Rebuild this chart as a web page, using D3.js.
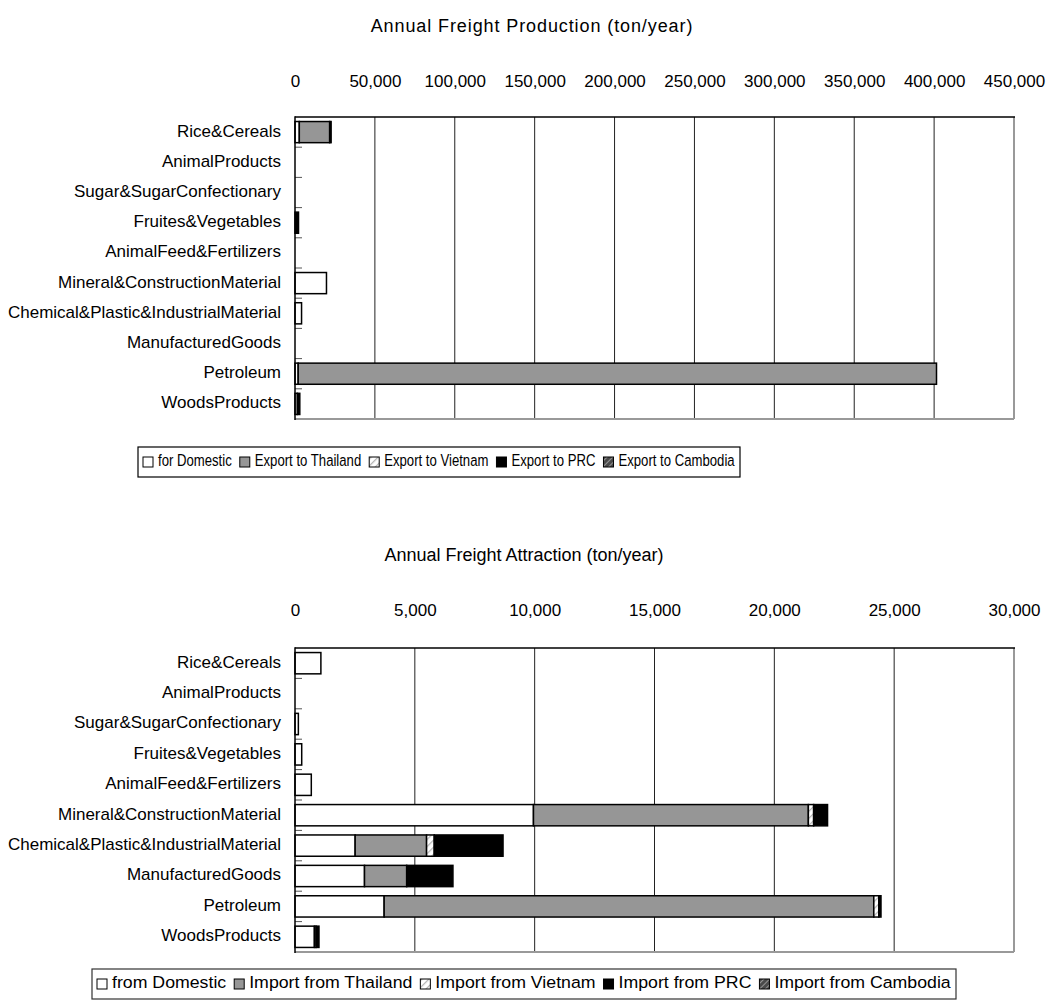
<!DOCTYPE html>
<html>
<head>
<meta charset="utf-8">
<script src="https://cdn.jsdelivr.net/npm/d3@7"></script>
<style>
  html, body { margin: 0; padding: 0; background: #fff; }
  svg text { font-family: "Liberation Sans", Arial, sans-serif; fill: #000; }
</style>
</head>
<body>
<script>
// Commodity groups shared by both panels
const categories = [
  "Rice&Cereals", "AnimalProducts", "Sugar&SugarConfectionary", "Fruites&Vegetables",
  "AnimalFeed&Fertilizers", "Mineral&ConstructionMaterial",
  "Chemical&Plastic&IndustrialMaterial", "ManufacturedGoods", "Petroleum", "WoodsProducts"
];

// Annual freight production (ton/year)
const prodDomestic  = [2700, 0, 0, 0, 0, 19700, 4100, 0, 2000, 1500];
const prodThailand  = [19000, 0, 0, 0, 0, 0, 0, 0, 399500, 0];
const prodVietnam   = [0, 0, 0, 0, 0, 0, 0, 0, 0, 0];
const prodPRC       = [900, 0, 0, 2200, 0, 0, 0, 0, 0, 1500];
const prodCambodia  = [0, 0, 0, 0, 0, 0, 0, 0, 0, 0];
const prodTicks     = [0, 50000, 100000, 150000, 200000, 250000, 300000, 350000, 400000, 450000];
const prodLegend    = ["for Domestic", "Export to Thailand", "Export to Vietnam", "Export to PRC", "Export to Cambodia"];

// Annual freight attraction (ton/year)
const attrDomestic  = [1080, 0, 140, 280, 680, 9950, 2510, 2900, 3720, 810];
const attrThailand  = [0, 0, 0, 0, 0, 11470, 2980, 1760, 20430, 70];
const attrVietnam   = [0, 0, 0, 0, 0, 220, 320, 0, 210, 0];
const attrPRC       = [0, 0, 0, 0, 0, 580, 2870, 1930, 90, 120];
const attrCambodia  = [0, 0, 0, 0, 0, 0, 0, 0, 0, 0];
const attrTicks     = [0, 5000, 10000, 15000, 20000, 25000, 30000];
const attrLegend    = ["from Domestic", "Import from Thailand", "Import from Vietnam", "Import from PRC", "Import from Cambodia"];

const keys = ["s0", "s1", "s2", "s3", "s4"];
const fills = ["#ffffff", "#969696", "url(#hatchLight)", "#000000", "url(#hatchDark)"];

const svg = d3.select("body").append("svg")
  .attr("width", 1050).attr("height", 1003);

svg.append("rect").attr("width", 1050).attr("height", 1003).attr("fill", "#fff");

// Hatch fills
const defs = svg.append("defs");
const pl = defs.append("pattern").attr("id", "hatchLight")
  .attr("patternUnits", "userSpaceOnUse").attr("width", 5).attr("height", 5)
  .attr("patternTransform", "rotate(45)");
pl.append("rect").attr("width", 5).attr("height", 5).attr("fill", "#fff");
pl.append("line").attr("x1", 0).attr("y1", 0).attr("x2", 0).attr("y2", 5)
  .attr("stroke", "#b4b4b4").attr("stroke-width", 2.5);
const pd = defs.append("pattern").attr("id", "hatchDark")
  .attr("patternUnits", "userSpaceOnUse").attr("width", 4).attr("height", 4)
  .attr("patternTransform", "rotate(45)");
pd.append("rect").attr("width", 4).attr("height", 4).attr("fill", "#4a4a4a");
pd.append("line").attr("x1", 0).attr("y1", 0).attr("x2", 0).attr("y2", 4)
  .attr("stroke", "#c8c8c8").attr("stroke-width", 1.2);

function drawPanel(opt) {
  const g = svg.append("g");
  const x = d3.scaleLinear().domain([0, opt.ticks[opt.ticks.length - 1]]).range([295, 1014]);
  const y = d3.scaleBand().domain(categories).range([opt.top, opt.bottom])
    .paddingInner(0.3).paddingOuter(0.15);

  // title
  g.append("text").attr("x", opt.titleX).attr("y", opt.titleY)
    .attr("text-anchor", "middle").attr("dominant-baseline", "middle")
    .style("font-size", "18px").style("letter-spacing", opt.titleSpacing + "px")
    .text(opt.title);

  // value axis labels (top)
  const ax = g.append("g").attr("transform", `translate(0,${opt.tickY})`)
    .call(d3.axisTop(x).tickValues(opt.ticks).tickFormat(d3.format(",")).tickSize(0).tickPadding(0));
  ax.select(".domain").remove();
  ax.selectAll("text").attr("dy", null).attr("dominant-baseline", "middle")
    .style("font-size", "17px").style("font-family", "'Liberation Sans', Arial, sans-serif");

  // gridlines
  g.append("g").selectAll("line").data(opt.ticks.slice(1, -1)).join("line")
    .attr("x1", d => x(d)).attr("x2", d => x(d))
    .attr("y1", opt.top).attr("y2", opt.bottom)
    .attr("stroke", "#222").attr("stroke-width", 1);

  // plot frame
  g.append("line").attr("x1", x.range()[1]).attr("x2", x.range()[1])
    .attr("y1", opt.top).attr("y2", opt.bottom).attr("stroke", "#999").attr("stroke-width", 2);
  g.append("line").attr("x1", 295).attr("x2", x.range()[1])
    .attr("y1", opt.bottom).attr("y2", opt.bottom).attr("stroke", "#999").attr("stroke-width", 2);
  g.append("line").attr("x1", 295).attr("x2", x.range()[1] + 1)
    .attr("y1", opt.top).attr("y2", opt.top).attr("stroke", "#000").attr("stroke-width", 1.5);

  // category tick marks on the inside of the axis
  const step = y.step();
  g.append("g").selectAll("line").data(d3.range(1, categories.length)).join("line")
    .attr("x1", 295).attr("x2", 302)
    .attr("y1", i => opt.top + i * step).attr("y2", i => opt.top + i * step)
    .attr("stroke", "#555").attr("stroke-width", 1);

  // stacked bars
  const rows = categories.map((c, i) => {
    const r = { cat: c };
    opt.series.forEach((s, k) => { r[keys[k]] = s[i]; });
    return r;
  });
  const stacked = d3.stack().keys(keys)(rows);
  stacked.forEach((layer, k) => {
    g.append("g").selectAll("rect")
      .data(layer.filter(d => d[1] - d[0] > 0)).join("rect")
      .attr("x", d => x(d[0])).attr("width", d => x(d[1]) - x(d[0]))
      .attr("y", d => y(d.data.cat)).attr("height", y.bandwidth())
      .attr("fill", fills[k]).attr("stroke", "#000").attr("stroke-width", 1.5);
  });

  // category axis
  g.append("line").attr("x1", 295).attr("x2", 295)
    .attr("y1", opt.top - 0.75).attr("y2", opt.bottom + 1).attr("stroke", "#000").attr("stroke-width", 1.5);
  const ay = g.append("g").attr("transform", "translate(281,0)")
    .call(d3.axisLeft(y).tickSize(0).tickPadding(0));
  ay.select(".domain").remove();
  ay.selectAll("text").attr("dy", null).attr("dominant-baseline", "middle")
    .style("font-size", "17px")
    .style("font-family", "'Liberation Sans', Arial, sans-serif");

  // legend: marker + label per series, labels squeezed to the box's content width
  const lb = opt.legendBox;
  const lg = g.append("g");
  lg.append("rect").attr("x", lb.x0).attr("y", lb.y0)
    .attr("width", lb.x1 - lb.x0).attr("height", lb.y1 - lb.y0)
    .attr("fill", "#fff").attr("stroke", lb.stroke).attr("stroke-width", 1.2);
  const cy = (lb.y0 + lb.y1) / 2;
  const mk = 10, gapIn = 5, gapOut = 8;
  const texts = opt.legend.map(label => lg.append("text")
    .attr("y", cy).attr("dominant-baseline", "middle")
    .style("font-size", "17px").text(label));
  const textSum = d3.sum(texts, t => t.node().getComputedTextLength());
  const fixed = opt.legend.length * (mk + gapIn) + (opt.legend.length - 1) * gapOut;
  const sx = (lb.x1 - lb.x0 - 2 * lb.pad - fixed) / textSum;
  let cx = lb.x0 + lb.pad;
  opt.legend.forEach((label, k) => {
    lg.append("rect").attr("x", cx).attr("y", cy - mk / 2).attr("width", mk).attr("height", mk)
      .attr("fill", fills[k]).attr("stroke", "#000").attr("stroke-width", 1);
    const tx = cx + mk + gapIn;
    texts[k].attr("x", 0).attr("transform", `translate(${tx},0) scale(${sx},1)`);
    cx = tx + texts[k].node().getComputedTextLength() * sx + gapOut;
  });
}

drawPanel({
  title: "Annual Freight Production (ton/year)", titleX: 532, titleY: 27, titleSpacing: 0.9, tickY: 83,
  top: 117, bottom: 419, ticks: prodTicks,
  series: [prodDomestic, prodThailand, prodVietnam, prodPRC, prodCambodia],
  legend: prodLegend,
  legendBox: { x0: 138, x1: 740, y0: 447, y1: 477, pad: 5, stroke: "#000" }
});

drawPanel({
  title: "Annual Freight Attraction (ton/year)", titleX: 524, titleY: 556, titleSpacing: 0, tickY: 612,
  top: 648, bottom: 952, ticks: attrTicks,
  series: [attrDomestic, attrThailand, attrVietnam, attrPRC, attrCambodia],
  legend: attrLegend,
  legendBox: { x0: 92, x1: 956, y0: 969, y1: 999, pad: 5, stroke: "#333" }
});
</script>
</body>
</html>
